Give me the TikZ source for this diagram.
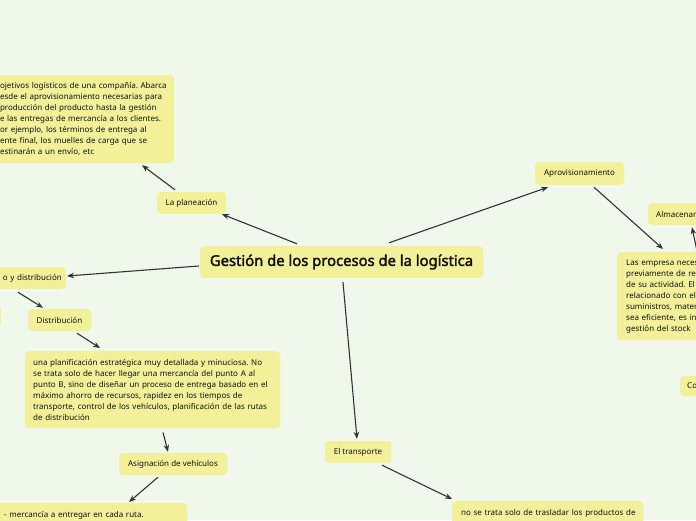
\documentclass[tikz,border=0pt]{standalone}
\usepackage{fontspec}
\setmainfont{Noto Sans}
\newfontfamily\titlefont{Noto Sans}[AutoFakeBold=2.2]
\usetikzlibrary{arrows.meta}
\definecolor{bgc}{HTML}{F0F8EB}
\definecolor{ylw}{HTML}{F3F09A}
\definecolor{lnc}{HTML}{333333}
\definecolor{txc}{HTML}{111111}
\tikzset{
 lbl/.style={fill=ylw, rounded corners=4pt, inner sep=0pt, text=txc, font=\fontsize{8}{11}\selectfont},
 para/.style={lbl, align=left, inner ysep=0pt},
 arr/.style={draw=lnc, line width=1.1pt, -{Stealth[length=7pt,width=5.5pt]}},
}
\begin{document}
\frenchspacing
\begin{tikzpicture}[x=1pt,y=-1pt]
\clip (0,0) rectangle (696,520);
\fill[bgc] (0,0) rectangle (696,520);

\node[lbl, minimum width=283pt, minimum height=32pt, font=\fontsize{14.8}{17}\titlefont\bfseries] (title) at (341.5,262) {Gestión de los procesos de la logística};

\node[para, text width=164pt, inner xsep=10pt, minimum height=88pt] (plantext) at (82,119) {%
\mbox{ojetivos logísticos de una compañía. Abarca}\\
\mbox{esde el aprovisionamiento necesarias para}\\
\mbox{producción del producto hasta la gestión}\\
\mbox{e las entregas de mercancía a los clientes.}\\
\mbox{or ejemplo, los términos de entrega al}\\
\mbox{ente final, los muelles de carga que se}\\
\mbox{estinarán a un envío, etc}};

\node[lbl, minimum width=69pt, minimum height=22pt] (planeacion) at (191.5,203) {La planeación};
\node[lbl, minimum width=89pt, minimum height=23pt] (aprov) at (579.5,173.5) {Aprovisionamiento};
\node[para, anchor=west, text width=60pt, inner xsep=8pt, minimum height=22pt] (almacen) at (648,214) {Almacenam};

\node[para, anchor=north west, text width=100pt, inner xsep=9pt, minimum height=88pt] (aprovtext) at (617,252) {%
\mbox{Las empresa neces}\\
\mbox{previamente de re}\\
\mbox{de su actividad. El a}\\
\mbox{relacionado con el}\\
\mbox{suministros, mater}\\
\mbox{sea eficiente, es inc}\\
\mbox{gestión del stock}};

\node[para, anchor=west, text width=30pt, inner xsep=7pt, minimum height=20pt] (co) at (680,386) {Co};

\node[lbl, anchor=east, text width=76pt, align=right, inner xsep=4pt, minimum height=22pt] (ydist) at (66,278) {o y distribución};
\node[lbl, anchor=east, minimum width=20pt, minimum height=22pt] (leftbox) at (1,316) {};
\node[lbl, minimum width=63pt, minimum height=22pt] (dist) at (59.5,320) {Distribución};

\node[para, anchor=north west, text width=239pt, inner xsep=8pt, minimum height=77pt] (disttext) at (25,351) {%
\mbox{una planificación estratégica muy detallada y minuciosa. No}\\
\mbox{se trata solo de hacer llegar una mercancía del punto A al}\\
\mbox{punto B, sino de diseñar un proceso de entrega basado en el}\\
\mbox{máximo ahorro de recursos, rapidez en los tiempos de}\\
\mbox{transporte, control de los vehículos, planificación de las rutas}\\
\mbox{de distribución}};

\node[lbl, minimum width=108pt, minimum height=22pt] (asig) at (173,464) {Asignación de vehículos};
\node[para, anchor=north west, text width=169pt, inner xsep=14pt, minimum height=24pt] (bl) at (-10,503) {\mbox{- mercancía a entregar en cada ruta.}};

\node[lbl, minimum width=66pt, minimum height=22pt] (trans) at (358,452) {El transporte};
\node[para, anchor=north west, text width=173pt, inner xsep=9pt, minimum height=24pt] (transtext) at (452,501) {\mbox{no se trata solo de trasladar los productos de}};

\draw[arr] ([xshift=-44.5pt,yshift=2pt]title.north) -- ([xshift=30.5pt]planeacion.south);
\draw[arr] ([xshift=-16.5pt,yshift=2pt]planeacion.north) -- ([xshift=60pt,yshift=-2pt]plantext.south);
\draw[arr] ([xshift=47.5pt,yshift=3pt]title.north) -- ([xshift=-31.5pt,yshift=-2pt]aprov.south);
\draw[arr] ([xshift=14.5pt,yshift=-2pt]aprov.south) -- ([xshift=46pt,yshift=3pt]aprovtext.north west);
\draw[arr] ([xshift=80pt,yshift=1pt]aprovtext.north west) -- ([xshift=44pt,yshift=-2pt]almacen.south west);
\draw[arr] ([xshift=-1pt,yshift=-4pt]title.west) -- ([xshift=1pt,yshift=2pt]ydist.east);
\draw[arr] ([xshift=-48pt,yshift=-3pt]ydist.south east) -- ([xshift=-16.5pt,yshift=1pt]dist.north);
\draw[arr] ([xshift=17.5pt,yshift=-2pt]dist.south) -- ([xshift=75pt,yshift=3pt]disttext.north west);
\draw[arr] ([xshift=138pt,yshift=-4pt]disttext.south west) -- ([xshift=-5pt,yshift=1pt]asig.north);
\draw[arr] ([xshift=-15pt,yshift=-2pt]asig.south) -- ([xshift=139pt,yshift=1pt]bl.north west);
\draw[arr] ([xshift=1.5pt,yshift=-4pt]title.south) -- ([xshift=-1pt,yshift=2pt]trans.north);
\draw[arr] ([xshift=24pt,yshift=-2pt]trans.south) -- ([yshift=2pt]transtext.north west);
\end{tikzpicture}
\end{document}
